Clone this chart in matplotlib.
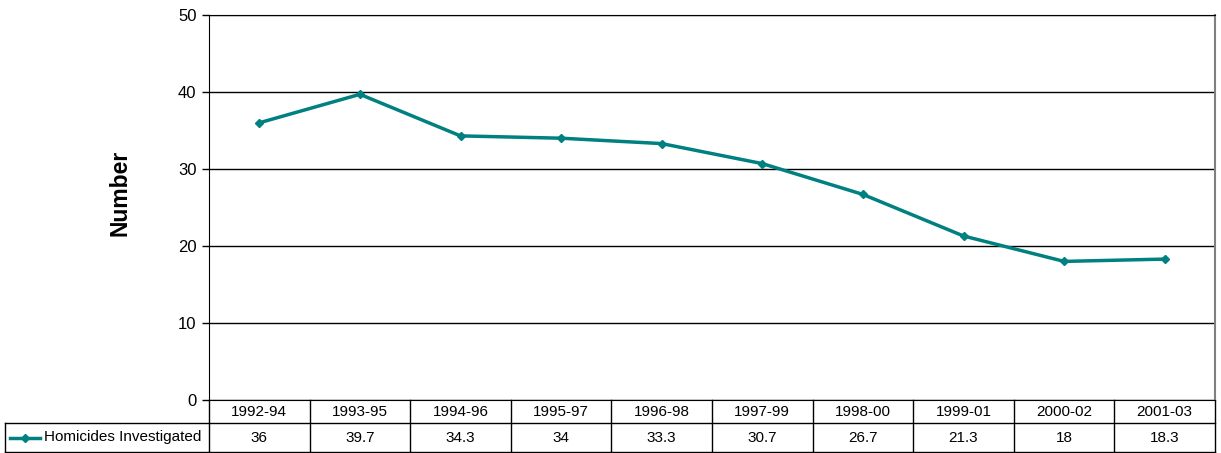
import matplotlib.pyplot as plt
from matplotlib.lines import Line2D
import matplotlib.transforms as mtransforms

plt.rcParams["font.family"] = ["Liberation Sans", "DejaVu Sans"]

periods = ["1992-94", "1993-95", "1994-96", "1995-97", "1996-98",
           "1997-99", "1998-00", "1999-01", "2000-02", "2001-03"]
homicides = [36, 39.7, 34.3, 34, 33.3, 30.7, 26.7, 21.3, 18, 18.3]
value_labels = ["36", "39.7", "34.3", "34", "33.3", "30.7", "26.7", "21.3", "18", "18.3"]
series_name = "Homicides Investigated"
teal = "#008080"

W, H = 1221, 453
fig = plt.figure(figsize=(W / 100, H / 100), dpi=100)
left, right, top, bottom = 209, 1215, 15, 400
ax = fig.add_axes([left / W, 1 - bottom / H, (right - left) / W, (bottom - top) / H])

x = list(range(len(periods)))
ax.plot(x, homicides, color=teal, linewidth=2.5, marker="D", markersize=4,
        clip_on=False, zorder=3)

ax.set_xlim(-0.5, len(periods) - 0.5)
ax.set_ylim(0, 50)
ax.set_yticks([0, 10, 20, 30, 40, 50])
ax.tick_params(axis="y", direction="out", length=5, width=1, labelsize=12, pad=4)
ax.tick_params(axis="x", length=0, labelbottom=False)
ax.yaxis.grid(True, color="black", linewidth=1)
ax.set_axisbelow(True)
for side in ["left", "bottom"]:
    ax.spines[side].set_color("black")
ax.spines["top"].set_color("black")
ax.spines["right"].set_color("#808080")
ax.spines["right"].set_linewidth(1.5)

fig.text(120 / W, 1 - 193 / H, "Number", rotation=90, fontsize=16.5,
         fontweight="bold", ha="center", va="center")

# data table under the plot: header row of periods, one row of values
px = 1 / (bottom - top)
r1 = -23 * px
r2 = -52 * px
tr = mtransforms.blended_transform_factory(ax.transData, ax.transAxes)
tra = ax.transAxes
lw = 1
line_kw = dict(color="black", linewidth=lw, clip_on=False)

xl, xr = -0.5, len(periods) - 0.5
ax.add_line(Line2D([xl, xr], [r1, r1], transform=tr, **line_kw))
ax.add_line(Line2D([xl, xr], [r2, r2], transform=tr, **line_kw))
for i in range(len(periods) + 1):
    ax.add_line(Line2D([i - 0.5, i - 0.5], [0, r2], transform=tr, **line_kw))

# row label cell
lab_left = (5 - left) / (right - left)
ax.add_line(Line2D([lab_left, 0], [r1, r1], transform=tra, **line_kw))
ax.add_line(Line2D([lab_left, 0], [r2, r2], transform=tra, **line_kw))
ax.add_line(Line2D([lab_left, lab_left], [r1, r2], transform=tra, **line_kw))

for i, (p, v) in enumerate(zip(periods, value_labels)):
    ax.text(i, (0 + r1) / 2, p, transform=tr, ha="center", va="center", fontsize=11)
    ax.text(i, (r1 + r2) / 2, v, transform=tr, ha="center", va="center", fontsize=11)

key_x0 = (10 - left) / (right - left)
key_x1 = (40 - left) / (right - left)
ym = (r1 + r2) / 2
ax.add_line(Line2D([key_x0, key_x1], [ym, ym], transform=tra, color=teal,
                   linewidth=2.5, clip_on=False))
ax.add_line(Line2D([(key_x0 + key_x1) / 2], [ym], transform=tra, color=teal,
                   marker="D", markersize=4, clip_on=False))
ax.text((44 - left) / (right - left), ym, series_name, transform=tra,
        ha="left", va="center", fontsize=11)

fig.savefig("out.png", dpi=100)
